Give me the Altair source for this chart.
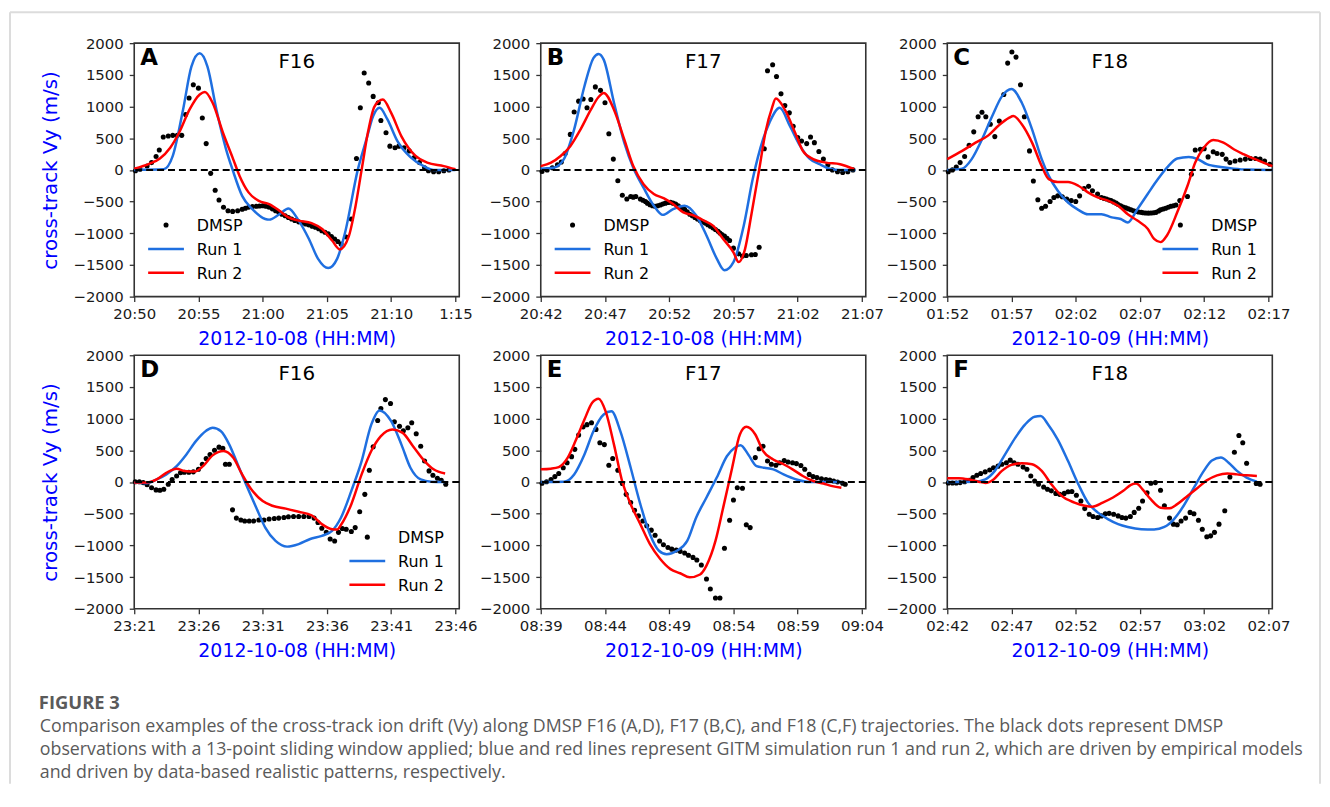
import json
import pandas as pd
import altair as alt

BLUE = "#1f6fe0"
RED = "#ff0000"

# ---------------- data (minutes after first tick, m/s) ----------------
A_dmsp = [(0.1,-15),(0.45,10),(1.0,60),(1.35,115),(1.7,210),(1.95,315),(2.26,520),(2.65,535),(3.0,545),(3.35,545),
          (3.7,545),(4.0,875),(4.27,1135),(4.6,1345),(5.0,1290),(5.3,820),(5.6,415),(5.95,-55),(6.3,-320),(6.6,-475),
          (6.95,-590),(7.3,-645),(7.66,-655),(8.05,-645),(8.4,-620),(8.65,-605),(8.9,-590),(9.2,-580),(9.5,-575),(9.75,-570),
          (10.0,-565),(10.25,-575),(10.5,-590),(10.75,-615),(11.0,-645),(11.25,-670),(11.5,-700),(11.75,-725),(12.0,-750),(12.25,-775),
          (12.5,-800),(12.8,-820),(13.1,-840),(13.35,-855),(13.6,-870),(13.85,-890),(14.1,-905),(14.35,-930),(14.6,-960),(14.85,-985),
          (15.1,-1010),(15.35,-1050),(15.6,-1090),(15.85,-1130),(16.1,-1170),(16.5,-1060),(16.9,-775),(17.3,180),(17.6,980),(17.9,1530),
          (18.25,1370),(18.6,1160),(19.0,1060),(19.2,780),(19.6,585),(19.9,375),(20.3,350),(20.6,375),(21.0,350),(21.4,300),
          (21.8,195),(22.2,115),(22.6,35),(22.9,-15),(23.3,-30),(23.7,-30),(24.1,-15),(24.5,0)]
A_run1 = [(0,0),(2.3,10),(3.0,220),(3.8,950),(4.45,1630),(5.1,1840),(5.7,1630),(6.4,950),(7.15,325),(7.66,0),
          (8.4,-410),(9.2,-620),(10.2,-775),(10.5,-785),(11.3,-700),(12.0,-610),(12.8,-800),(13.6,-1090),(14.3,-1400),(15.1,-1550),
          (15.8,-1400),(16.4,-1000),(17.4,0),(18.1,500),(18.6,850),(19.1,980),(19.7,800),(20.5,450),(21.5,200),(22.6,50),
          (23.3,0),(25.0,0)]
A_run2 = [(0,20),(1.2,100),(2.0,180),(2.8,350),(3.5,590),(4.3,950),(5.1,1190),(5.5,1230),(6.1,1060),(6.9,590),
          (7.7,170),(8.2,-95),(8.9,-355),(9.7,-490),(10.5,-540),(11.3,-645),(12.0,-750),(12.8,-800),(13.8,-840),(14.6,-930),
          (15.4,-1115),(16.0,-1255),(16.7,-1050),(17.2,-600),(17.7,0),(18.2,600),(18.7,1000),(19.35,1110),(20.0,900),(20.8,530),
          (21.9,220),(22.8,115),(24.1,60),(25.0,10)]

B_dmsp = [(0.1,-25),(0.5,0),(0.9,35),(1.3,80),(1.6,125),(1.9,260),(2.3,560),(2.6,915),(2.95,1085),(3.3,1120),
          (3.6,980),(3.9,1110),(4.25,1310),(4.65,1255),(5.0,1060),(5.3,570),(5.65,170),(6.0,-170),(6.35,-400),(6.7,-460),
          (7.0,-420),(7.2,-430),(7.4,-420),(7.75,-460),(7.95,-480),(8.15,-500),(8.3,-525),(8.5,-550),(8.7,-565),(8.9,-575),
          (9.1,-565),(9.3,-555),(9.5,-540),(9.7,-525),(9.9,-515),(10.1,-510),(10.3,-525),(10.5,-540),(10.7,-565),(10.85,-590),
          (11.0,-605),(11.2,-620),(11.4,-660),(11.6,-700),(11.8,-725),(12.0,-750),(12.2,-775),(12.4,-800),(12.6,-820),(12.8,-840),
          (13.0,-865),(13.2,-890),(13.4,-915),(13.6,-940),(13.8,-970),(13.95,-995),(14.1,-1020),(14.3,-1045),(14.5,-1080),(14.7,-1115),
          (15.0,-1235),(15.4,-1325),(15.7,-1360),(16.0,-1350),(16.4,-1340),(16.7,-1335),(17.0,-1220),(17.4,335),(17.65,1565),(18.05,1660),
          (18.35,1475),(18.7,1200),(19.0,1015),(19.35,900),(19.65,690),(20.0,510),(20.3,455),(20.7,415),(21.0,520),(21.3,430),
          (21.65,290),(22.0,170),(22.35,80),(22.7,0),(23.1,-30),(23.5,-40),(23.9,-30),(24.3,0)]
B_run1 = [(0,20),(1.0,35),(1.8,170),(2.6,640),(3.4,1320),(4.1,1765),(4.5,1830),(4.9,1740),(5.7,1060),(6.5,430),
          (7.2,35),(8.0,-280),(8.8,-565),(9.5,-710),(10.3,-620),(11.2,-565),(12.1,-720),(12.9,-1035),(13.7,-1400),(14.3,-1585),
          (15.0,-1455),(15.8,-880),(16.5,-145),(17.3,480),(17.8,745),(18.6,980),(19.4,690),(20.2,375),(20.9,180),(21.7,90),
          (22.5,20),(23.3,0),(24.5,0)]
B_run2 = [(0,60),(0.8,115),(1.55,220),(2.3,375),(3.1,640),(3.9,950),(4.5,1150),(4.9,1215),(5.7,950),(6.5,480),
          (7.2,60),(8.0,-225),(8.8,-380),(9.6,-450),(10.3,-540),(11.1,-670),(11.9,-720),(12.7,-800),(13.4,-880),(14.2,-1090),
          (15.0,-1300),(15.4,-1455),(15.9,-1250),(16.4,-700),(17.0,0),(17.5,600),(18.0,980),(18.3,1125),(19.0,950),(19.8,585),
          (20.4,300),(21.2,170),(22.2,115),(23.3,90),(24.4,10)]

C_dmsp = [(0.08,-30),(0.4,0),(0.7,45),(1.0,115),(1.35,210),(1.7,390),(2.06,600),(2.4,840),(2.7,910),(3.0,840),
          (3.35,720),(3.7,525),(4.05,770),(4.4,1190),(4.7,1685),(5.03,1860),(5.35,1780),(5.7,1345),(6.0,840),(6.4,300),
          (6.7,-175),(7.05,-470),(7.35,-605),(7.65,-575),(8.0,-500),(8.3,-435),(8.6,-410),(8.95,-425),(9.3,-460),(9.65,-485),
          (10.0,-500),(10.3,-410),(10.65,-295),(11.0,-260),(11.3,-330),(11.7,-380),(12.0,-435),(12.2,-450),(12.4,-460),(12.6,-475),
          (12.75,-485),(12.95,-505),(13.15,-525),(13.3,-545),(13.5,-565),(13.7,-585),(13.9,-600),(14.1,-615),(14.3,-630),(14.5,-645),
          (14.7,-655),(14.9,-665),(15.1,-670),(15.25,-675),(15.45,-680),(15.65,-682),(15.85,-680),(16.05,-675),(16.25,-670),(16.45,-650),
          (16.6,-630),(16.8,-618),(17.0,-605),(17.2,-590),(17.4,-575),(17.6,-565),(17.8,-555),(18.1,-485),(18.7,-420),(19.0,-70),
          (19.3,315),(19.7,325),(20.0,335),(20.3,205),(20.7,285),(21.0,260),(21.4,245),(21.7,170),(22.0,115),(22.4,140),
          (22.8,155),(23.2,170),(23.6,180),(24.0,180),(24.35,170),(24.7,140),(25.1,90)]
C_run1 = [(0,0),(1.16,20),(1.9,170),(2.7,480),(3.5,850),(4.25,1160),(5.0,1275),(5.8,1060),(6.6,640),(7.35,170),
          (7.9,-95),(8.6,-330),(9.4,-515),(10.2,-630),(10.95,-700),(12.0,-700),(12.8,-750),(13.5,-775),(14.05,-830),(14.8,-620),
          (15.6,-380),(16.4,-145),(17.1,35),(17.9,180),(18.8,205),(19.5,170),(20.2,90),(21.3,45),(22.3,20),(23.3,5),
          (25.3,0)]
C_run2 = [(0,170),(1.16,300),(2.2,430),(3.2,545),(4.0,700),(4.8,820),(5.15,850),(5.8,720),(6.6,430),(7.35,60),
          (7.9,-145),(8.6,-190),(9.4,-190),(10.2,-250),(10.95,-355),(11.7,-435),(12.5,-485),(13.3,-565),(14.05,-700),(14.8,-800),
          (15.6,-930),(16.1,-1090),(16.6,-1140),(17.1,-1035),(17.9,-670),(18.7,-250),(19.3,115),(19.97,350),(20.7,470),(21.5,430),
          (22.3,325),(23.1,245),(23.8,180),(24.6,115),(25.3,60)]

D_dmsp = [(0.08,5),(0.4,5),(0.7,-10),(1.0,-45),(1.35,-90),(1.7,-125),(2.0,-130),(2.3,-115),(2.65,-35),(2.95,40),
          (3.3,95),(3.6,145),(3.9,155),(4.25,155),(4.6,160),(5.0,200),(5.3,280),(5.6,370),(5.9,435),(6.25,500),
          (6.6,550),(6.9,530),(7.1,280),(7.4,280),(7.65,-440),(7.95,-570),(8.3,-600),(8.6,-615),(8.95,-615),(9.3,-615),
          (9.7,-600),(10.1,-600),(10.5,-585),(10.9,-575),(11.25,-570),(11.65,-560),(12.0,-550),(12.4,-545),(12.8,-545),(13.2,-545),
          (13.6,-545),(14.0,-570),(14.3,-640),(14.6,-730),(14.95,-795),(15.25,-900),(15.6,-930),(15.9,-795),(16.2,-735),(16.5,-745),
          (16.9,-780),(17.2,-720),(17.55,-470),(17.95,-195),(18.3,185),(18.6,555),(18.95,970),(19.2,1160),(19.55,1300),(19.95,1240),
          (20.25,950),(20.65,880),(20.95,810),(21.3,855),(21.6,935),(21.95,760),(22.3,565),(22.6,330),(22.95,175),(23.25,105),
          (23.6,60),(23.9,25),(24.25,-35)]
D_run1 = [(0,-10),(0.98,-20),(1.75,40),(2.5,120),(3.3,250),(4.06,435),(4.8,645),(5.6,810),(6.1,855),(6.75,800),
          (7.4,590),(8.05,280),(8.7,-35),(9.5,-405),(10.2,-720),(11.0,-930),(11.9,-1020),(12.8,-980),(13.7,-900),(14.6,-850),
          (15.4,-770),(16.1,-560),(16.9,-140),(17.7,330),(18.45,905),(19.1,1130),(20.0,960),(20.8,590),(21.5,225),(22.3,40),
          (23.1,5),(24.2,0)]
D_run2 = [(0,-10),(0.98,-10),(1.75,40),(2.5,145),(3.3,210),(3.9,175),(4.7,165),(5.35,250),(6.1,420),(6.95,490),
          (7.7,385),(8.4,120),(9.2,-140),(10.0,-300),(10.75,-375),(11.8,-420),(12.8,-470),(13.8,-525),(14.6,-665),(15.4,-745),
          (15.8,-750),(16.1,-675),(16.9,-350),(17.7,120),(18.45,490),(19.2,725),(20.1,830),(20.9,775),(21.7,565),(22.6,330),
          (23.3,200),(24.2,135)]

E_dmsp = [(0.1,-20),(0.45,5),(0.8,40),(1.1,85),(1.4,135),(1.75,225),(2.05,305),(2.4,400),(2.65,515),(2.95,740),
          (3.3,870),(3.6,905),(3.95,935),(4.3,830),(4.6,620),(4.95,590),(5.3,265),(5.6,370),(6.0,185),(6.35,-25),
          (6.65,-195),(7.0,-325),(7.3,-445),(7.6,-535),(7.95,-615),(8.25,-690),(8.6,-760),(8.9,-840),(9.25,-930),(9.55,-990),
          (9.9,-1035),(10.2,-1060),(10.55,-1075),(10.85,-1095),(11.2,-1120),(11.5,-1155),(11.85,-1190),(12.15,-1230),(12.5,-1310),(12.9,-1530),
          (13.2,-1690),(13.6,-1830),(13.95,-1830),(14.3,-1045),(14.7,-605),(15.0,-285),(15.3,-90),(15.7,-100),(16.0,-675),(16.3,-720),
          (16.7,385),(17.0,525),(17.3,565),(17.65,330),(17.95,280),(18.3,265),(18.6,305),(18.95,340),(19.25,315),(19.6,305),
          (19.9,290),(20.25,260),(20.55,200),(20.9,120),(21.2,85),(21.5,70),(21.85,50),(22.2,40),(22.5,30),(22.8,15),
          (23.1,0),(23.5,-20),(23.7,-35)]
E_run1 = [(0,0),(1.8,5),(2.6,120),(3.4,435),(4.1,800),(4.9,1065),(5.5,1115),(6.2,800),(7.0,225),(7.75,-350),
          (8.5,-825),(9.2,-1085),(9.8,-1140),(10.6,-1085),(11.4,-930),(12.1,-560),(12.9,-245),(13.7,70),(14.5,410),(15.1,540),
          (15.55,580),(16.15,435),(16.8,250),(17.4,225),(18.1,200),(18.9,120),(19.9,40),(20.9,0),(23.5,0)]
E_run2 = [(0,200),(0.78,210),(1.4,235),(2.1,385),(2.7,645),(3.4,985),(4.0,1250),(4.5,1315),(5.05,1115),(5.7,590),
          (6.3,40),(7.0,-350),(7.75,-665),(8.5,-980),(9.3,-1215),(10.1,-1375),(10.85,-1440),(11.6,-1505),(12.4,-1460),(12.9,-1320),
          (13.6,-930),(14.2,-405),(14.9,225),(15.5,750),(16.0,870),(16.7,750),(17.3,490),(18.1,355),(18.9,280),(19.6,200),
          (20.4,95),(21.2,15),(22.0,-25),(22.7,-65),(23.4,-90)]

F_dmsp = [(0.08,-15),(0.4,-15),(0.7,-15),(1.0,-10),(1.35,5),(1.7,25),(2.0,70),(2.3,105),(2.6,135),(2.95,160),
          (3.3,190),(3.6,225),(3.95,250),(4.25,280),(4.6,305),(4.9,345),(5.2,305),(5.5,280),(5.9,235),(6.2,200),
          (6.5,95),(6.8,15),(7.1,-35),(7.5,-80),(7.8,-115),(8.1,-140),(8.45,-180),(8.75,-195),(9.1,-180),(9.4,-155),
          (9.7,-150),(10.05,-210),(10.4,-300),(10.7,-420),(11.05,-510),(11.35,-545),(11.7,-560),(12.0,-535),(12.3,-500),(12.6,-495),
          (12.95,-510),(13.3,-535),(13.6,-560),(13.9,-570),(14.25,-545),(14.55,-480),(14.9,-415),(15.2,-300),(15.55,-170),(15.85,-20),
          (16.2,-10),(16.6,-130),(16.9,-375),(17.3,-570),(17.6,-665),(17.9,-675),(18.2,-615),(18.55,-570),(18.9,-480),(19.2,-500),
          (19.55,-605),(19.85,-745),(20.2,-865),(20.5,-850),(20.8,-795),(21.15,-665),(21.6,-455),(22.0,80),(22.35,470),(22.7,735),
          (23.0,620),(23.3,295),(24.05,-25),(24.35,-35)]
F_run1 = [(0,0),(2.2,5),(2.96,40),(3.7,175),(4.5,435),(5.3,700),(6.05,905),(6.8,1030),(7.27,1040),(7.86,905),
          (8.6,670),(9.4,330),(10.2,-35),(10.95,-325),(11.7,-480),(12.5,-585),(13.3,-665),(14.05,-710),(15.1,-745),(16.1,-750),
          (16.9,-710),(17.65,-585),(18.4,-375),(19.2,-90),(19.97,175),(20.6,340),(21.3,385),(21.9,305),(22.55,175),(23.3,70),
          (24.1,5)]
F_run2 = [(0,60),(0.9,60),(1.7,40),(2.45,5),(2.96,-15),(3.6,40),(4.25,175),(5.0,270),(5.8,295),(6.6,280),
          (7.35,175),(8.1,-35),(8.9,-220),(9.9,-325),(10.7,-375),(11.3,-390),(12.1,-325),(12.9,-245),(13.7,-140),(14.3,-45),
          (14.7,-25),(15.2,-115),(15.85,-275),(16.6,-405),(17.3,-415),(17.9,-350),(18.7,-220),(19.5,-90),(20.2,25),(21.0,105),
          (21.8,135),(22.55,120),(23.3,105),(24.1,95)]

A_ticks = ["20:50", "20:55", "21:00", "21:05", "21:10", "1:15"]
B_ticks = ["20:42", "20:47", "20:52", "20:57", "21:02", "21:07"]
C_ticks = ["01:52", "01:57", "02:02", "02:07", "02:12", "02:17"]
D_ticks = ["23:21", "23:26", "23:31", "23:36", "23:41", "23:46"]
E_ticks = ["08:39", "08:44", "08:49", "08:54", "08:59", "09:04"]
F_ticks = ["02:42", "02:47", "02:52", "02:57", "03:02", "02:07"]

tick_pos = [0, 5, 10, 15, 20, 25]
y_ticks = [-2000, -1500, -1000, -500, 0, 500, 1000, 1500, 2000]

CAPTION_HEAD = "FIGURE 3"
CAPTION_LINES = [
    "Comparison examples of the cross-track ion drift (Vy) along DMSP F16 (A,D), F17 (B,C), and F18 (C,F) trajectories. The black dots represent DMSP",
    "observations with a 13-point sliding window applied; blue and red lines represent GITM simulation run 1 and run 2, which are driven by empirical models",
    "and driven by data-based realistic patterns, respectively.",
]

W, H = 327, 255
FONT = "DejaVu Sans"
CAP_FONT = "Open Sans"
one = pd.DataFrame({"a": [0]})


def df(pairs):
    return pd.DataFrame(pairs, columns=["t", "v"])


def txt(x, y, s, **kw):
    return alt.Chart(one).mark_text(**kw).encode(
        x=alt.value(x), y=alt.value(y), text=alt.value(s))


def legend(x0):
    return [
        alt.Chart(one).mark_circle(color="black", size=26, opacity=1).encode(
            x=alt.value(x0 + 18), y=alt.value(183)),
        alt.Chart(one).mark_rule(color=BLUE, strokeWidth=2.5).encode(
            x=alt.value(x0), x2=alt.value(x0 + 36), y=alt.value(207)),
        alt.Chart(one).mark_rule(color=RED, strokeWidth=2.5).encode(
            x=alt.value(x0), x2=alt.value(x0 + 36), y=alt.value(231)),
        txt(x0 + 49, 189, "DMSP", font=FONT, fontSize=16, align="left", baseline="alphabetic", color="black"),
        txt(x0 + 49, 213, "Run 1", font=FONT, fontSize=16, align="left", baseline="alphabetic", color="black"),
        txt(x0 + 49, 237, "Run 2", font=FONT, fontSize=16, align="left", baseline="alphabetic", color="black"),
    ]


def panel(dmsp, r1, r2, ticks, xtitle, letter, sat, leg=None, ytitle=False, extra=()):
    xaxis = alt.Axis(values=tick_pos, labelExpr=json.dumps(ticks) + "[round(datum.value/5)]",
                     title=xtitle, titleX=W / 2, titleY=42, titleBaseline="middle",
                     titleAlign="center", grid=False, labelFlush=False, labelOverlap=False)
    if ytitle:
        yaxis = alt.Axis(values=y_ticks, format="d", grid=False, title="cross-track Vy (m/s)",
                         titleX=-84, titleY=H / 2, titleAngle=270, titleBaseline="middle",
                         titleAlign="center", labelOverlap=False, labelFlush=False, tickCount=9)
    else:
        yaxis = alt.Axis(values=y_ticks, format="d", grid=False, title=None,
                         labelOverlap=False, labelFlush=False, tickCount=9)
    xs = alt.Scale(domain=[0, 25.3], nice=False, zero=False)
    ys = alt.Scale(domain=[-2000, 2000], nice=False)

    def X():
        return alt.X("t:Q", scale=xs, axis=xaxis)

    def Y(field):
        return alt.Y(field, scale=ys, axis=yaxis)

    pts = alt.Chart(df(dmsp)).mark_circle(color="black", size=26, opacity=1).encode(
        x=X(), y=Y("v:Q"))
    l1 = alt.Chart(df(r1)).mark_line(color=BLUE, strokeWidth=2.5, interpolate="monotone").encode(
        x=X(), y=Y("v:Q"))
    l2 = alt.Chart(df(r2)).mark_line(color=RED, strokeWidth=2.5, interpolate="monotone").encode(
        x=X(), y=Y("v:Q"))
    zero = alt.Chart(pd.DataFrame({"v": [0]})).mark_rule(
        color="black", strokeWidth=2, strokeDash=[7, 4]).encode(y=Y("v:Q"))
    layers = [pts, l1, l2, zero,
              txt(6, 22, letter, font=FONT, fontSize=23, fontWeight="bold", align="left",
                  baseline="alphabetic", color="black"),
              txt(W / 2, 25, sat, font=FONT, fontSize=20, align="center",
                  baseline="alphabetic", color="black")]
    if leg is not None:
        layers += legend(leg)
    layers += list(extra)
    return alt.layer(*layers).properties(width=W, height=H)


GRAY = "#dcdcdc"
CAP_COLOR = "#5a5a5a"
frame = [
    alt.Chart(one).mark_rule(color=GRAY, strokeWidth=2).encode(
        x=alt.value(-125), x2=alt.value(1193), y=alt.value(-31)),
    alt.Chart(one).mark_rule(color=GRAY, strokeWidth=2).encode(
        x=alt.value(-125), y=alt.value(-31), y2=alt.value(745)),
    alt.Chart(one).mark_rule(color=GRAY, strokeWidth=2).encode(
        x=alt.value(1193), y=alt.value(-31), y2=alt.value(745)),
    txt(-96, 670, CAPTION_HEAD, font=CAP_FONT, fontSize=18.5, fontWeight="bold", align="left",
        baseline="alphabetic", color=CAP_COLOR),
    txt(-95, 693, CAPTION_LINES[0], font=CAP_FONT, fontSize=17.9, align="left",
        baseline="alphabetic", color=CAP_COLOR),
    txt(-95, 716, CAPTION_LINES[1], font=CAP_FONT, fontSize=17.9, align="left",
        baseline="alphabetic", color=CAP_COLOR),
    txt(-95, 739, CAPTION_LINES[2], font=CAP_FONT, fontSize=17.9, align="left",
        baseline="alphabetic", color=CAP_COLOR),
]

pA = panel(A_dmsp, A_run1, A_run2, A_ticks, "2012-10-08 (HH:MM)", "A", "F16", leg=14, ytitle=True, extra=frame)
pB = panel(B_dmsp, B_run1, B_run2, B_ticks, "2012-10-08 (HH:MM)", "B", "F17", leg=14)
pC = panel(C_dmsp, C_run1, C_run2, C_ticks, "2012-10-09 (HH:MM)", "C", "F18", leg=216.5)
pD = panel(D_dmsp, D_run1, D_run2, D_ticks, "2012-10-08 (HH:MM)", "D", "F16", leg=216.5, ytitle=True)
pE = panel(E_dmsp, E_run1, E_run2, E_ticks, "2012-10-09 (HH:MM)", "E", "F17")
pF = panel(F_dmsp, F_run1, F_run2, F_ticks, "2012-10-09 (HH:MM)", "F", "F18")

chart = alt.concat(
    pA, pB, pC, pD, pE, pF, columns=3,
    spacing={"row": 59, "column": 82}, bounds="flush"
).properties(
    padding=0
).configure_view(
    stroke="#333333", strokeWidth=1.6
).configure_axis(
    labelFont=FONT, labelFontSize=15, labelColor="#1a1a1a", labelOverlap=False,
    tickColor="#333333", tickSize=5, tickWidth=1.3, domain=False,
    titleFont=FONT, titleFontWeight="normal", titleColor="blue",
).configure_axisX(
    labelPadding=5, titleFontSize=19
).configure_axisY(
    labelPadding=6, titleFontSize=20
)

chart.save("out.html", embed_options={"renderer": "svg", "actions": False})
